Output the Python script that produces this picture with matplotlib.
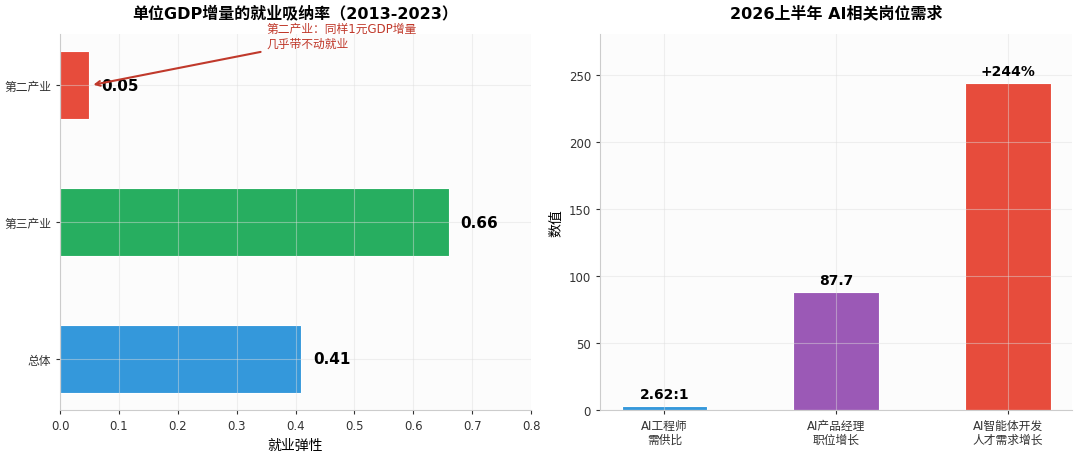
import numpy as np
import matplotlib
matplotlib.use('Agg')
import matplotlib.pyplot as plt

plt.rcParams['font.family'] = ['DejaVu Sans', 'Noto Sans CJK SC']
plt.rcParams['axes.unicode_minus'] = False

# 左图：就业弹性
sectors = ['总体', '第三产业', '第二产业']
elasticity = [0.41, 0.66, 0.05]
sector_colors = ['#3498db', '#27ae60', '#e74c3c']

# 右图：AI岗位需求
ai_labels = ['AI工程师\n需供比', 'AI产品经理\n职位增长', 'AI智能体开发\n人才需求增长']
ai_values = [2.62, 87.7, 244]
ai_texts = ['2.62:1', '87.7', '+244%']
ai_colors = ['#3498db', '#9b59b6', '#e74c3c']

fig = plt.figure(figsize=(10.8, 4.56), dpi=100)
ax1 = fig.add_axes([0.0556, 0.0987, 0.4361, 0.8245])
ax2 = fig.add_axes([0.5556, 0.0987, 0.437, 0.8245])

for ax in (ax1, ax2):
    ax.set_facecolor('#fcfcfc')
    ax.spines['top'].set_visible(False)
    ax.spines['right'].set_visible(False)
    ax.spines['left'].set_color('#cccccc')
    ax.spines['bottom'].set_color('#cccccc')
    ax.tick_params(colors='#333333', labelsize=8.5, length=3)
    ax.grid(True, color='#dddddd', alpha=0.45, linewidth=0.8)

# 左图
y = np.arange(len(sectors))
ax1.barh(y, elasticity, height=0.5, color=sector_colors, edgecolor='white', linewidth=0.8)
ax1.set_yticks(y)
ax1.set_yticklabels(sectors, fontsize=8.5)
ax1.set_xlim(0, 0.8)
ax1.set_xlabel('就业弹性', fontsize=10)
ax1.set_title('单位GDP增量的就业吸纳率（2013-2023）', fontsize=11.5, fontweight='bold', pad=12)
for i, v in enumerate(elasticity):
    ax1.text(v + 0.02, i, f'{v:.2f}', va='center', ha='left', fontsize=11, fontweight='bold')
ax1.annotate('第二产业：同样1元GDP增量\n几乎带不动就业', xy=(0.052, 2), xytext=(0.35, 2.36),
             fontsize=8.5, color='#c0392b', ha='left', va='center', annotation_clip=False,
             arrowprops=dict(arrowstyle='->', color='#c0392b', lw=1.5))

# 右图
x = np.arange(len(ai_labels))
ax2.bar(x, ai_values, width=0.5, color=ai_colors, edgecolor='white', linewidth=0.8)
ax2.set_xticks(x)
ax2.set_xticklabels(ai_labels, fontsize=8.5, linespacing=1.1)
ax2.set_ylim(0, max(ai_values) * 1.15)
ax2.set_ylabel('数值', fontsize=10)
ax2.set_title('2026上半年 AI相关岗位需求', fontsize=11.5, fontweight='bold', pad=12)
for i, (v, t) in enumerate(zip(ai_values, ai_texts)):
    ax2.text(i, v + 4, t, ha='center', va='bottom', fontsize=10, fontweight='bold')

fig.savefig('out.png', dpi=100)
